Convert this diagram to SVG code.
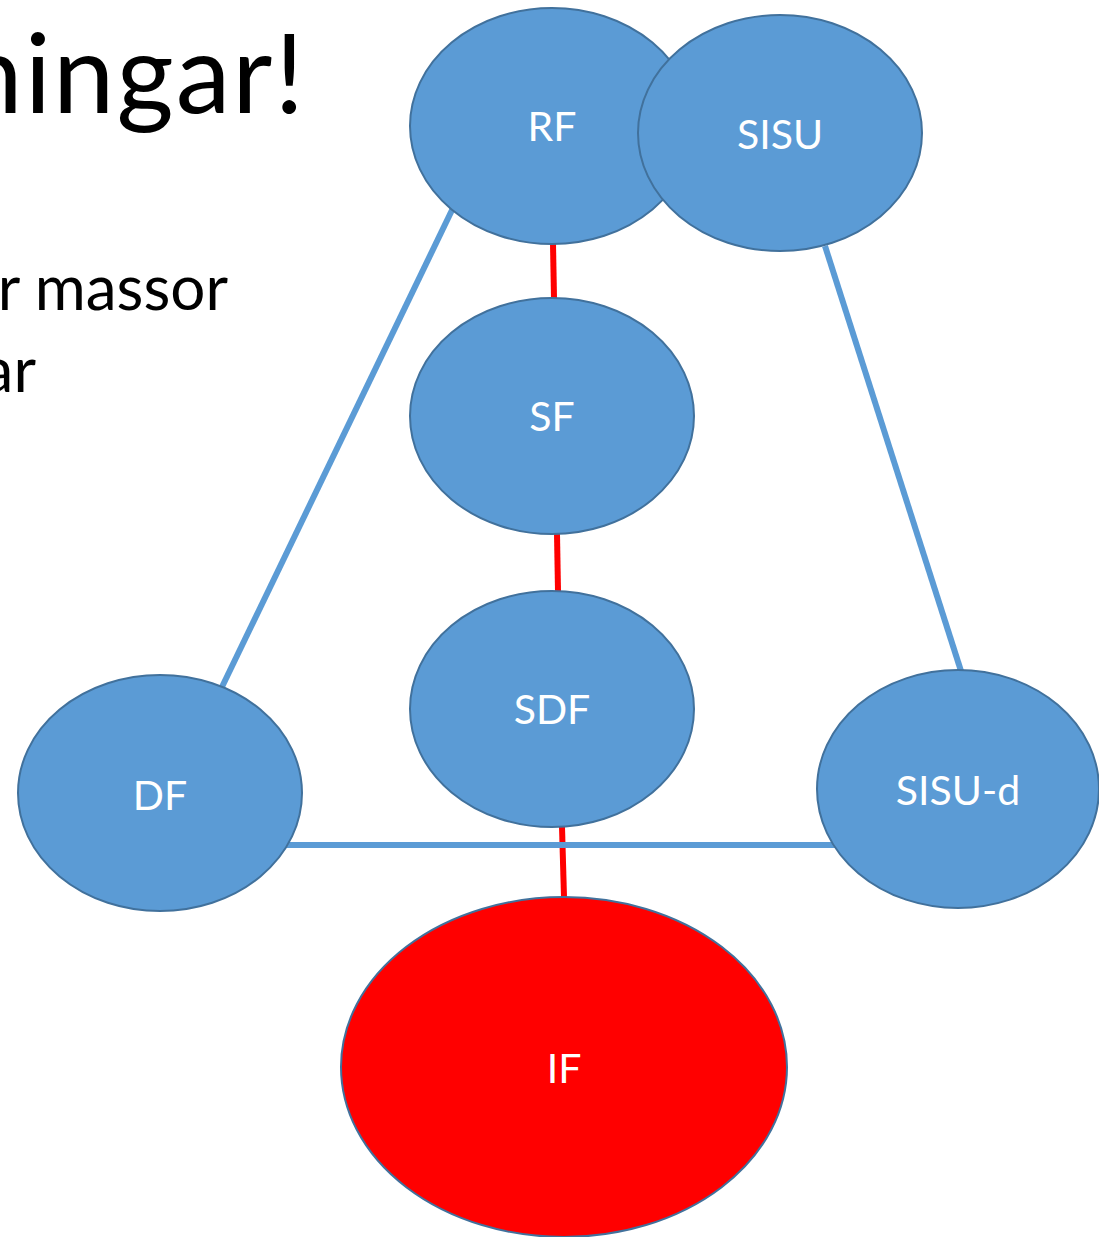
<svg xmlns="http://www.w3.org/2000/svg" width="1099" height="1237" viewBox="0 0 1099 1237">
  <style>
    .node { fill: #5B9BD5; stroke: #41719C; stroke-width: 2; }
    .node-red { fill: #FF0000; stroke: #41719C; stroke-width: 2; }
    .label { font-family: Lato, "Open Sans", sans-serif; font-size: 41px; fill: #FFFFFF; text-anchor: middle; }
    .slide { font-family: Lato, "Open Sans", sans-serif; fill: #000000; text-anchor: end; }
    .link-blue { stroke: #5B9BD5; stroke-width: 6; fill: none; }
    .link-red { stroke: #FF0000; stroke-width: 6; fill: none; }
  </style>

  <rect width="1099" height="1237" fill="#FFFFFF"/>

  <!-- slide text behind the diagram -->
  <g id="slide-text">
    <text class="slide" x="306" y="113" font-size="110" letter-spacing="2">ningar!</text>
    <text class="slide" x="228" y="310" font-size="62">r massor</text>
    <text class="slide" x="36" y="392" font-size="62">ar</text>
  </g>

  <!-- connectors -->
  <g id="connectors">
    <line class="link-red" x1="553" y1="244" x2="554" y2="298"/>
    <line class="link-red" x1="557" y1="534" x2="558" y2="591"/>
    <line class="link-red" x1="562" y1="827" x2="564" y2="897"/>
    <line class="link-blue" x1="453" y1="208" x2="221" y2="689"/>
    <line class="link-blue" x1="825" y1="246" x2="961" y2="671"/>
    <line class="link-blue" x1="286" y1="845" x2="836" y2="845"/>
  </g>

  <!-- nodes -->
  <g id="node-rf">
    <ellipse class="node" cx="552" cy="126" rx="142" ry="118"/>
    <text class="label" x="552" y="141">RF</text>
  </g>
  <g id="node-sisu">
    <ellipse class="node" cx="780" cy="133" rx="142" ry="118"/>
    <text class="label" x="780" y="149">SISU</text>
  </g>
  <g id="node-sf">
    <ellipse class="node" cx="552" cy="416" rx="142" ry="118"/>
    <text class="label" x="552" y="431">SF</text>
  </g>
  <g id="node-sdf">
    <ellipse class="node" cx="552" cy="709" rx="142" ry="118"/>
    <text class="label" x="552" y="724">SDF</text>
  </g>
  <g id="node-df">
    <ellipse class="node" cx="160" cy="793" rx="142" ry="118"/>
    <text class="label" x="160" y="810">DF</text>
  </g>
  <g id="node-sisu-d">
    <ellipse class="node" cx="958" cy="789" rx="141" ry="119"/>
    <text class="label" x="958" y="805">SISU-d</text>
  </g>
  <g id="node-if">
    <ellipse class="node-red" cx="564" cy="1067" rx="223" ry="170"/>
    <text class="label" x="564" y="1083">IF</text>
  </g>
</svg>
